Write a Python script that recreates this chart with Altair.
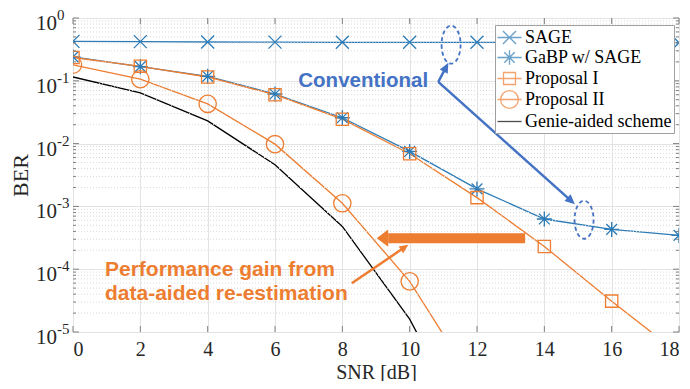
import math
import altair as alt
import pandas as pd

# ---------------- data ----------------
snr = [0, 2, 4, 6, 8, 10, 12, 14, 16, 18]
sage = [0.425, 0.42, 0.415, 0.413, 0.41, 0.41, 0.41, 0.408, 0.406, 0.404]
gabp = [0.24, 0.168, 0.118, 0.0616, 0.0258, 0.0075, 0.0019, 6.3e-4, 4.3e-4, 3.45e-4]
prop1 = [0.235, 0.17, 0.115, 0.060, 0.0245, 0.0069, 1.38e-3, 2.3e-4, 3.1e-5, 4.5e-6]
prop2_snr = [0, 2, 4, 6, 8, 10, 12]
prop2 = [0.18, 0.106, 0.043, 0.0098, 1.12e-3, 6.4e-5, 1.3e-6]
genie_snr = [0, 2, 4, 6, 8, 10, 12]
genie = [0.115, 0.064, 0.023, 0.0046, 4.8e-4, 1.6e-5, 1.5e-7]

series_names = ["SAGE", "GaBP w/ SAGE", "Proposal I", "Proposal II", "Genie-aided scheme"]
BLUE = "#2C7BB6"
ORANGE = "#ED7D31"
ANN_BLUE = "#4472C4"
series_colors = [BLUE, BLUE, ORANGE, ORANGE, "#000000"]

x_ticks = [0, 2, 4, 6, 8, 10, 12, 14, 16, 18]
decades = [1, 0.1, 0.01, 0.001, 1e-4, 1e-5]
decade_exp = ["0", "-1", "-2", "-3", "-4", "-5"]
minor_vals = [m * 10.0 ** k for k in range(-5, 0) for m in range(2, 10)]

# annotation anchors (data coordinates)
conv_text = {"snr": 8.62, "ber": 0.098, "text": "Conventional"}
gain_lines = ["Performance gain from", "data-aided re-estimation"]
gain_snr = [0.95, 0.95]
gain_ber = [9.8e-5, 3.96e-5]
ellipse_snr = [11.23, 15.18]
ellipse_ber = [0.376, 6.13e-4]
blue_arrow_start = (10.85, 0.096)
blue_arrow_ends = [(11.15, 0.194), (14.91, 1.08e-3)]
thick_arrow = [(13.43, 3.12e-4), (9.02, 3.12e-4)]
thin_arrow = [(8.28, 5.96e-5), (9.96, 2.45e-4)]

# ---------------- geometry ----------------
W, H = 606, 314
PX_X = W / 18.0
PX_DEC = H / 5.0


def to_px(s, b):
    return s * PX_X, -math.log10(b) * PX_DEC


def head_info(start, end, head_len):
    x0, y0 = to_px(*start)
    x1, y1 = to_px(*end)
    ang = math.degrees(math.atan2(y1 - y0, x1 - x0)) % 360
    L = math.hypot(x1 - x0, y1 - y0)
    f = max(0.0, 1 - (head_len * 0.85) / L)
    bs = start[0] + (end[0] - start[0]) * f
    bb = 10 ** (math.log10(start[1]) + (math.log10(end[1]) - math.log10(start[1])) * f)
    return ang, (bs, bb)


# ---------------- dataframes ----------------
rows = []
for name, xs, ys in [
    ("SAGE", snr, sage),
    ("GaBP w/ SAGE", snr, gabp),
    ("Proposal I", snr, prop1),
    ("Proposal II", prop2_snr, prop2),
    ("Genie-aided scheme", genie_snr, genie),
]:
    for xv, yv in zip(xs, ys):
        rows.append({"series": name, "snr": xv, "ber": yv})
df = pd.DataFrame(rows)

x_scale = alt.Scale(domain=[0, 18], nice=False, zero=False)
y_scale = alt.Scale(type="log", domain=[1e-5, 1], nice=False)

x_axis = alt.Axis(
    values=x_ticks, format="d", grid=True, gridColor="#e3e3e3", gridWidth=1,
    domain=False, ticks=False, tickSize=0, labelPadding=7,
    labelFont="Liberation Serif", labelFontSize=20, labelColor="#262626",
    titleFont="Liberation Serif", titleFontSize=20, titleFontWeight="normal",
    titleColor="#262626", titleX=W / 2, titleY=46, titleBaseline="alphabetic",
)
y_axis = alt.Axis(
    values=decades, grid=True, gridColor="#e3e3e3", gridWidth=1,
    domain=False, ticks=False, labels=False,
    titleFont="Liberation Serif", titleFontSize=22, titleFontWeight="normal",
    titleColor="#262626", titleAngle=270, titleX=-46, titleY=H / 2,
    titleAlign="center", titleBaseline="alphabetic",
)

X = alt.X("snr:Q", scale=x_scale, axis=x_axis, title="SNR [dB]")
Y = alt.Y("ber:Q", scale=y_scale, axis=y_axis, title="BER")

# ---------------- legend (line + marker symbols) ----------------
LINE = "M-1.25,0L1.25,0"
legend_paths = [
    LINE + "M-0.68,-0.68L0.68,0.68M-0.68,0.68L0.68,-0.68",
    LINE + "M0,-0.74L0,0.74M-0.54,-0.54L0.54,0.54M-0.54,0.54L0.54,-0.54",
    LINE + "M-0.62,-0.62H0.62V0.62H-0.62Z",
    LINE + "M-0.92,0A0.92,0.92 0 1,0 0.92,0A0.92,0.92 0 1,0 -0.92,0",
    LINE,
]
legend = alt.Legend(
    title=None, orient="none", legendX=422, legendY=7, fillColor="white", strokeColor="#a0a0a0",
    padding=2, labelFont="Liberation Serif", labelFontSize=18, labelColor="black",
    symbolSize=372, symbolStrokeWidth=1.3, rowPadding=0, symbolOffset=2, labelOffset=5, labelLimit=300,
)
color_scale = alt.Scale(domain=series_names, range=series_colors)
color_leg = alt.Color("series:N", scale=color_scale, legend=legend, title=None)
color_noleg = alt.Color("series:N", scale=color_scale, legend=None)

# minor grid
minor_df = pd.DataFrame({"ber": minor_vals})
minor_grid = alt.Chart(minor_df).mark_rule(color="#dadada", strokeDash=[1, 2], strokeWidth=1).encode(y=Y)

# series lines (carry the legend)
lines = alt.Chart(df).mark_line(strokeWidth=1.3, clip=True).encode(
    x=X, y=Y, color=color_leg, order="snr:Q"
)

legend_df = pd.DataFrame({"series": series_names, "snr": [0] * 5, "ber": [1e-9] * 5})
legend_layer = alt.Chart(legend_df).mark_point(filled=False, clip=True, strokeWidth=1.3).encode(
    x=X, y=Y, color=color_leg,
    shape=alt.Shape("series:N", scale=alt.Scale(domain=series_names, range=legend_paths), legend=legend, title=None),
)

marker_specs = {
    "SAGE": ("M-1,-1L1,1M-1,1L1,-1", 169),
    "GaBP w/ SAGE": ("M0,-1L0,1M-1,0L1,0M-0.72,-0.72L0.72,0.72M-0.72,0.72L0.72,-0.72", 225),
    "Proposal I": ("M-1,-1H1V1H-1Z", 150),
    "Proposal II": ("circle", 300),
}
marker_layers = []
for name, (shape, size) in marker_specs.items():
    marker_layers.append(
        alt.Chart(df).transform_filter(alt.datum.series == name).mark_point(
            shape=shape, size=size, filled=False, strokeWidth=1.3, clip=True, opacity=1
        ).encode(x=X, y=Y, color=color_noleg)
    )

# ticks (inside, box style)
xt_df = pd.DataFrame({"snr": x_ticks})
yt_df = pd.DataFrame({"ber": decades})
tick_col = "#808080"
ticks = [
    alt.Chart(xt_df).mark_rule(color=tick_col).encode(x=X, y=alt.value(H), y2=alt.value(H - 6)),
    alt.Chart(xt_df).mark_rule(color=tick_col).encode(x=X, y=alt.value(0), y2=alt.value(6)),
    alt.Chart(yt_df).mark_rule(color=tick_col).encode(y=Y, x=alt.value(0), x2=alt.value(6)),
    alt.Chart(yt_df).mark_rule(color=tick_col).encode(y=Y, x=alt.value(W), x2=alt.value(W - 6)),
    alt.Chart(minor_df).mark_rule(color=tick_col).encode(y=Y, x=alt.value(0), x2=alt.value(3)),
    alt.Chart(minor_df).mark_rule(color=tick_col).encode(y=Y, x=alt.value(W), x2=alt.value(W - 3)),
]

# y tick labels 10^k
ylab_df = pd.DataFrame({"ber": decades, "base": ["10"] * len(decades), "exp": decade_exp})
ylab_base = alt.Chart(ylab_df).mark_text(
    font="Liberation Serif", fontSize=21, align="right", baseline="alphabetic", dy=12, color="#262626"
).encode(y=Y, x=alt.value(-16), text="base:N")
ylab_exp = alt.Chart(ylab_df).mark_text(
    font="Liberation Serif", fontSize=15, align="left", baseline="alphabetic", dy=2, color="#262626"
).encode(y=Y, x=alt.value(-16), text="exp:N")

# ---------------- annotations ----------------
conv = alt.Chart(pd.DataFrame([conv_text])).mark_text(
    font="Liberation Sans", fontSize=20.5, fontWeight="bold", color=ANN_BLUE, align="center", baseline="middle"
).encode(x=X, y=Y, text="text:N")

gain = alt.Chart(pd.DataFrame({"snr": gain_snr, "ber": gain_ber, "text": gain_lines})).mark_text(
    font="Liberation Sans", fontSize=21, fontWeight="bold", color=ORANGE, align="left", baseline="middle"
).encode(x=X, y=Y, text="text:N")

ell_path = "M-0.5,0A0.5,1 0 1,0 0.5,0A0.5,1 0 1,0 -0.5,0Z"
ellipses = alt.Chart(pd.DataFrame({"snr": ellipse_snr, "ber": ellipse_ber})).mark_point(
    shape=ell_path, size=1444, filled=False, stroke=ANN_BLUE, strokeWidth=1.8, strokeDash=[4, 3], opacity=1
).encode(x=X, y=Y)

head_path = "M0,0L-2,-0.9L-2,0.9Z"
wide_head_path = "M0,0L-2,-1.5L-2,1.5Z"

seg_rows, head_rows = [], []
for i, end in enumerate(blue_arrow_ends):
    ang, base = head_info(blue_arrow_start, end, 10)
    seg_rows += [{"id": i, "o": 0, "snr": blue_arrow_start[0], "ber": blue_arrow_start[1]},
                 {"id": i, "o": 1, "snr": base[0], "ber": base[1]}]
    head_rows.append({"snr": end[0], "ber": end[1], "ang": ang})
blue_shafts = alt.Chart(pd.DataFrame(seg_rows)).mark_line(color=ANN_BLUE, strokeWidth=2.5).encode(
    x=X, y=Y, detail="id:N", order="o:Q")
blue_heads = alt.Chart(pd.DataFrame(head_rows)).mark_point(
    shape=head_path, size=100, filled=True, color=ANN_BLUE, opacity=1, strokeWidth=0
).encode(x=X, y=Y, angle=alt.Angle("ang:Q", scale=None))

ang_t, base_t = head_info(thick_arrow[0], thick_arrow[1], 11.5 / 0.85)
thick_shaft = alt.Chart(pd.DataFrame({"snr": [thick_arrow[0][0], base_t[0]], "ber": [thick_arrow[0][1], base_t[1]], "o": [0, 1]})).mark_line(
    color=ORANGE, strokeWidth=10, strokeCap="butt").encode(x=X, y=Y, order="o:Q")
thick_head = alt.Chart(pd.DataFrame({"snr": [thick_arrow[1][0]], "ber": [thick_arrow[1][1]], "ang": [ang_t]})).mark_point(
    shape=wide_head_path, size=132, filled=True, color=ORANGE, opacity=1, strokeWidth=0
).encode(x=X, y=Y, angle=alt.Angle("ang:Q", scale=None))

ang_n, base_n = head_info(thin_arrow[0], thin_arrow[1], 9)
thin_shaft = alt.Chart(pd.DataFrame({"snr": [thin_arrow[0][0], base_n[0]], "ber": [thin_arrow[0][1], base_n[1]], "o": [0, 1]})).mark_line(
    color=ORANGE, strokeWidth=2.5).encode(x=X, y=Y, order="o:Q")
thin_head = alt.Chart(pd.DataFrame({"snr": [thin_arrow[1][0]], "ber": [thin_arrow[1][1]], "ang": [ang_n]})).mark_point(
    shape=head_path, size=81, filled=True, color=ORANGE, opacity=1, strokeWidth=0
).encode(x=X, y=Y, angle=alt.Angle("ang:Q", scale=None))

chart = alt.layer(
    lines, legend_layer, minor_grid, *marker_layers, *ticks, ylab_base, ylab_exp,
    ellipses, blue_shafts, blue_heads, conv, thick_shaft, thick_head, thin_shaft, thin_head, gain,
).properties(
    width=W, height=H, autosize=alt.AutoSizeParams(type="none"),
    padding={"left": 65, "top": 10, "right": 3, "bottom": 49},
).configure_view(stroke="#8c8c8c", strokeWidth=1).configure(background="white")

chart.save("out.html", embed_options={"renderer": "svg", "actions": False})
